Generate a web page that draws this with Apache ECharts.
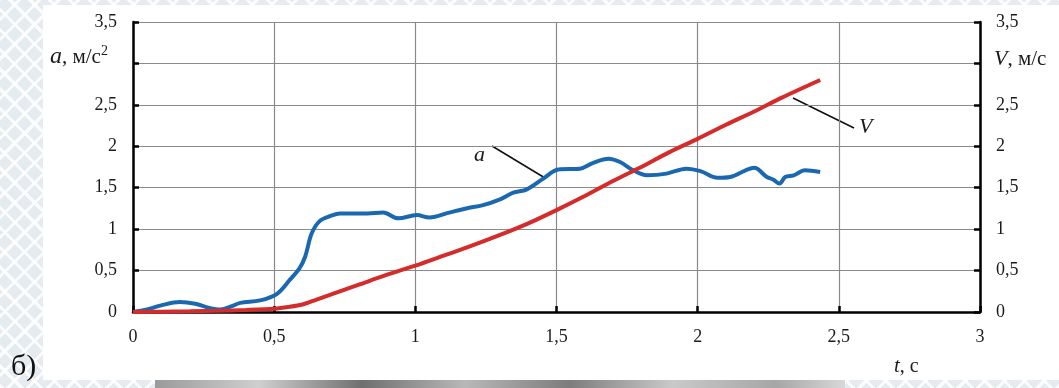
<!DOCTYPE html>
<html>
<head>
<meta charset="utf-8">
<script src="https://cdn.jsdelivr.net/npm/echarts@6/dist/echarts.min.js"></script>
<style>
  html, body { margin: 0; padding: 0; }
  body {
    width: 1059px; height: 388px; overflow: hidden;
    background-color: #e6ebf0;
    background-image:
      repeating-linear-gradient(45deg, rgba(255,255,255,0.8) 0 3px, transparent 3px 14px),
      repeating-linear-gradient(-45deg, rgba(255,255,255,0.8) 0 3px, transparent 3px 14px);
  }
  #chart { width: 1059px; height: 388px; }
</style>
</head>
<body>
<div id="chart"></div>
<script>
// Acceleration a(t), m/s^2
const tA = [0, 0.05, 0.1, 0.166, 0.22, 0.27, 0.31, 0.35, 0.38, 0.45, 0.51, 0.556, 0.59, 0.61, 0.633, 0.662, 0.70, 0.733, 0.83, 0.886, 0.94, 1.005, 1.05, 1.12, 1.18, 1.24, 1.30, 1.347, 1.395, 1.453, 1.507, 1.583, 1.63, 1.684, 1.725, 1.772, 1.82, 1.89, 1.96, 2.01, 2.07, 2.115, 2.17, 2.20, 2.245, 2.267, 2.29, 2.31, 2.34, 2.38, 2.434];
const accel = [0, 0.03, 0.08, 0.12, 0.10, 0.05, 0.03, 0.07, 0.11, 0.14, 0.22, 0.39, 0.53, 0.67, 0.95, 1.10, 1.16, 1.19, 1.19, 1.20, 1.13, 1.17, 1.14, 1.20, 1.25, 1.29, 1.36, 1.44, 1.48, 1.61, 1.72, 1.73, 1.80, 1.85, 1.81, 1.71, 1.65, 1.67, 1.73, 1.70, 1.62, 1.63, 1.71, 1.74, 1.63, 1.60, 1.55, 1.63, 1.65, 1.71, 1.69];

// Velocity V(t), m/s
const tV = [0, 0.1, 0.2, 0.3, 0.4, 0.5, 0.55, 0.6, 0.65, 0.7, 0.8, 0.9, 1.0, 1.1, 1.2, 1.3, 1.4, 1.5, 1.6, 1.7, 1.8, 1.9, 2.0, 2.1, 2.2, 2.3, 2.434];
const velocity = [0, 0.003, 0.008, 0.015, 0.025, 0.04, 0.06, 0.09, 0.15, 0.21, 0.33, 0.45, 0.56, 0.68, 0.80, 0.93, 1.07, 1.23, 1.40, 1.58, 1.75, 1.93, 2.09, 2.26, 2.42, 2.59, 2.80];

const FONT = '"Liberation Serif", "Times New Roman", serif';
const commaFmt = v => String(v).replace('.', ',');
// the "3" slot on both vertical axes is taken by the axis title
const yFmt = v => (v === 3 ? '' : commaFmt(v));

const chart = echarts.init(document.getElementById('chart'), null, { renderer: 'canvas' });

const labelBase = { fontFamily: FONT, fontSize: 18, color: '#1a1a1a' };
const splitLine = { show: true, lineStyle: { color: '#8a8a8a', width: 1.2 } };
const axisLine = { show: true, lineStyle: { color: '#000', width: 2.5 } };
const axisTick = { show: true, inside: true, length: 6, lineStyle: { color: '#000', width: 2.5 } };

chart.setOption({
  animation: false,
  backgroundColor: 'transparent',
  grid: { left: 133, right: 79, top: 22, bottom: 76 },
  xAxis: {
    type: 'value', min: 0, max: 3, interval: 0.5,
    axisLine, axisTick, splitLine,
    axisLabel: Object.assign({ margin: 16, formatter: commaFmt }, labelBase)
  },
  yAxis: [
    {
      type: 'value', min: 0, max: 3.5, interval: 0.5, position: 'left',
      axisLine, axisTick, splitLine,
      axisLabel: Object.assign({ margin: 16, formatter: yFmt }, labelBase)
    },
    {
      type: 'value', min: 0, max: 3.5, interval: 0.5, position: 'right',
      axisLine, axisTick, splitLine: { show: false },
      axisLabel: Object.assign({ margin: 16, formatter: yFmt }, labelBase)
    }
  ],
  graphic: [
    { type: 'rect', z: -10, shape: { x: 43, y: 5, width: 1016, height: 375 }, style: { fill: '#ffffff' } },
    {
      type: 'rect', z: -10, shape: { x: 155, y: 380, width: 690, height: 8 },
      style: {
        fill: new echarts.graphic.LinearGradient(0, 0, 1, 0, [
          { offset: 0, color: '#9a9a9a' }, { offset: 0.15, color: '#cfcfcf' },
          { offset: 0.3, color: '#6f6f6f' }, { offset: 0.45, color: '#b8b8b8' },
          { offset: 0.6, color: '#7c7c7c' }, { offset: 0.75, color: '#c9c9c9' },
          { offset: 0.9, color: '#a6a6a6' }, { offset: 1, color: '#d8d8d8' }
        ])
      }
    },
    // axis titles
    {
      type: 'text', left: 50, top: 44,
      style: {
        text: '{i|a}, м/с{s|2}',
        rich: {
          i: { fontFamily: FONT, fontStyle: 'italic', fontSize: 24, fill: '#1a1a1a' },
          s: { fontFamily: FONT, fontSize: 14, fill: '#1a1a1a', padding: [0, 0, 12, 0] }
        },
        fontFamily: FONT, fontSize: 21, fill: '#1a1a1a'
      }
    },
    {
      type: 'text', left: 994, top: 48,
      style: {
        text: '{i|V}, м/с',
        rich: { i: { fontFamily: FONT, fontStyle: 'italic', fontSize: 22, fill: '#1a1a1a' } },
        fontFamily: FONT, fontSize: 21, fill: '#1a1a1a'
      }
    },
    {
      type: 'text', left: 894, top: 356,
      style: {
        text: '{i|t}, с',
        rich: { i: { fontFamily: FONT, fontStyle: 'italic', fontSize: 21, fill: '#1a1a1a' } },
        fontFamily: FONT, fontSize: 20, fill: '#1a1a1a'
      }
    },
    {
      type: 'text', left: 11, top: 352,
      style: { text: 'б)', fontFamily: FONT, fontSize: 30, fill: '#111' }
    },
    // curve labels with leader lines
    {
      type: 'text', left: 474, top: 144,
      style: { text: 'a', fontFamily: FONT, fontStyle: 'italic', fontSize: 22, fill: '#1a1a1a' }
    },
    { type: 'line', shape: { x1: 492, y1: 146, x2: 545, y2: 178 }, style: { stroke: '#111', lineWidth: 1.6 } },
    {
      type: 'text', left: 859, top: 116,
      style: { text: 'V', fontFamily: FONT, fontStyle: 'italic', fontSize: 22, fill: '#1a1a1a' }
    },
    { type: 'line', shape: { x1: 793, y1: 98, x2: 854, y2: 128 }, style: { stroke: '#111', lineWidth: 1.6 } }
  ],
  series: [
    {
      name: 'a', type: 'line', xAxisIndex: 0, yAxisIndex: 0,
      data: tA.map((t, i) => [t, accel[i]]),
      showSymbol: false, smooth: 0.35, z: 3,
      lineStyle: { color: '#1a69b0', width: 4 }
    },
    {
      name: 'V', type: 'line', xAxisIndex: 0, yAxisIndex: 1,
      data: tV.map((t, i) => [t, velocity[i]]),
      showSymbol: false, smooth: 0.3, z: 4,
      lineStyle: { color: '#d42b2b', width: 4 }
    }
  ]
});
</script>
</body>
</html>
